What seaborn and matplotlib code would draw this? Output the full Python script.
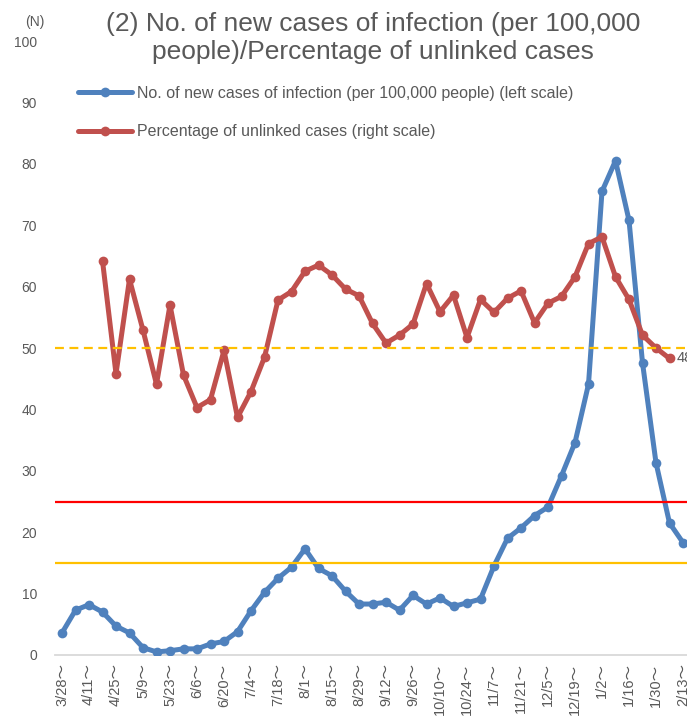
import numpy as np
import pandas as pd
import matplotlib
matplotlib.use('Agg')
import matplotlib.pyplot as plt
import seaborn as sns

# weekly categories (week starting)
weeks = ['3/28', '4/4', '4/11', '4/18', '4/25', '5/2', '5/9', '5/16', '5/23', '5/30',
         '6/6', '6/13', '6/20', '6/27', '7/4', '7/11', '7/18', '7/25', '8/1', '8/8',
         '8/15', '8/22', '8/29', '9/5', '9/12', '9/19', '9/26', '10/3', '10/10', '10/17',
         '10/24', '10/31', '11/7', '11/14', '11/21', '11/28', '12/5', '12/12', '12/19', '12/26',
         '1/2', '1/9', '1/16', '1/23', '1/30', '2/6', '2/13']

# new cases per 100,000 people (left scale)
new_cases = [3.6, 7.3, 8.2, 7.0, 4.7, 3.6, 1.2, 0.5, 0.7, 1.0,
             1.0, 1.8, 2.2, 3.8, 7.2, 10.2, 12.5, 14.3, 17.3, 14.1,
             12.9, 10.4, 8.3, 8.3, 8.6, 7.3, 9.7, 8.3, 9.3, 7.9,
             8.5, 9.1, 14.5, 19.0, 20.7, 22.7, 24.1, 29.2, 34.6, 44.1,
             75.5, 80.5, 70.8, 47.6, 31.3, 21.5, 18.3]

# percentage of unlinked cases (right scale)
nan = np.nan
unlinked_pct = [nan, nan, nan, 64.2, 45.8, 61.2, 52.9, 44.1, 57.0, 45.6,
                40.3, 41.6, 49.6, 38.7, 42.9, 48.5, 57.8, 59.2, 62.5, 63.5,
                61.9, 59.6, 58.5, 54.0, 50.8, 52.1, 53.9, 60.5, 55.9, 58.6,
                51.7, 57.9, 55.8, 58.1, 59.3, 54.1, 57.3, 58.4, 61.6, 67.0,
                68.1, 61.6, 57.9, 52.1, 50.0, 48.3, nan]

# reference levels
red_level = 25
yellow_level = 15
pct_level = 50

title = '(2) No. of new cases of infection (per 100,000\npeople)/Percentage of unlinked cases'
label_cases = 'No. of new cases of infection (per 100,000 people) (left scale)'
label_pct = 'Percentage of unlinked cases (right scale)'

blue = '#4F81BD'
red = '#C0504D'
gray = '#595959'

sns.set_theme(style='white')
plt.rcParams['font.family'] = ['Liberation Sans', 'Noto Sans CJK JP', 'DejaVu Sans']

df = pd.DataFrame({'week': weeks, 'pos': np.arange(len(weeks)),
                   'new_cases': new_cases, 'unlinked': unlinked_pct})

W, H = 687, 721
fig = plt.figure(figsize=(W / 100, H / 100), dpi=100)
ax = fig.add_axes([55.25 / W, 66 / H, 634.5 / W, 614 / H])

sns.lineplot(data=df, x='pos', y='new_cases', ax=ax, color=blue, lw=3.6,
             marker='o', markersize=7, markeredgewidth=0, label=label_cases, zorder=3)
sns.lineplot(data=df.dropna(subset=['unlinked']), x='pos', y='unlinked', ax=ax, color=red, lw=3.6,
             marker='o', markersize=7, markeredgewidth=0, label=label_pct, zorder=4)

ax.axhline(red_level, color='#FF0000', lw=1.6, zorder=5)
ax.axhline(yellow_level, color='#FFC000', lw=1.6, zorder=5)
ax.axhline(pct_level, color='#FFC000', lw=1.6, ls=(0, (4, 2.5)), zorder=5)

ax.set_xlim(-0.5, len(weeks) - 0.5)
ax.set_ylim(0, 100)
ax.set_xlabel('')
ax.set_ylabel('')

ax.set_xticks(df['pos'][::2])
ax.set_xticklabels([w + '～' for w in weeks[::2]], rotation=90, fontsize=10.5, color=gray)
ax.set_yticks(range(0, 101, 10))
ax.set_yticklabels([str(v) for v in range(0, 101, 10)], fontsize=10, color=gray)
ax.tick_params(axis='x', length=0, pad=6)
ax.tick_params(axis='y', length=0, pad=13)

for side in ['top', 'right', 'left']:
    ax.spines[side].set_visible(False)
ax.spines['bottom'].set_color('#D9D9D9')
ax.spines['bottom'].set_linewidth(1.3)

# data label on last unlinked point
last = df.dropna(subset=['unlinked']).iloc[-1]
ax.annotate(f"{last['unlinked']:.1f}", xy=(last['pos'], last['unlinked']), xytext=(5, 0),
            textcoords='offset points', va='center', ha='left', fontsize=10.5, color=gray,
            annotation_clip=False)

ax.legend(loc='upper left', bbox_to_anchor=(78 / W, 1 - 86 / H), bbox_transform=fig.transFigure,
          frameon=False, borderpad=0, borderaxespad=0, fontsize=11.5, labelcolor=gray,
          handlelength=3.4, handletextpad=0.3, labelspacing=1.45)

fig.text(373 / W, 1 - 38 / H, title, ha='center', va='center', fontsize=19,
         color=gray, linespacing=1.25)
fig.text(35 / W, 1 - 22 / H, '(N)', ha='center', va='center', fontsize=10, color=gray)

fig.savefig('out.png', dpi=100)
